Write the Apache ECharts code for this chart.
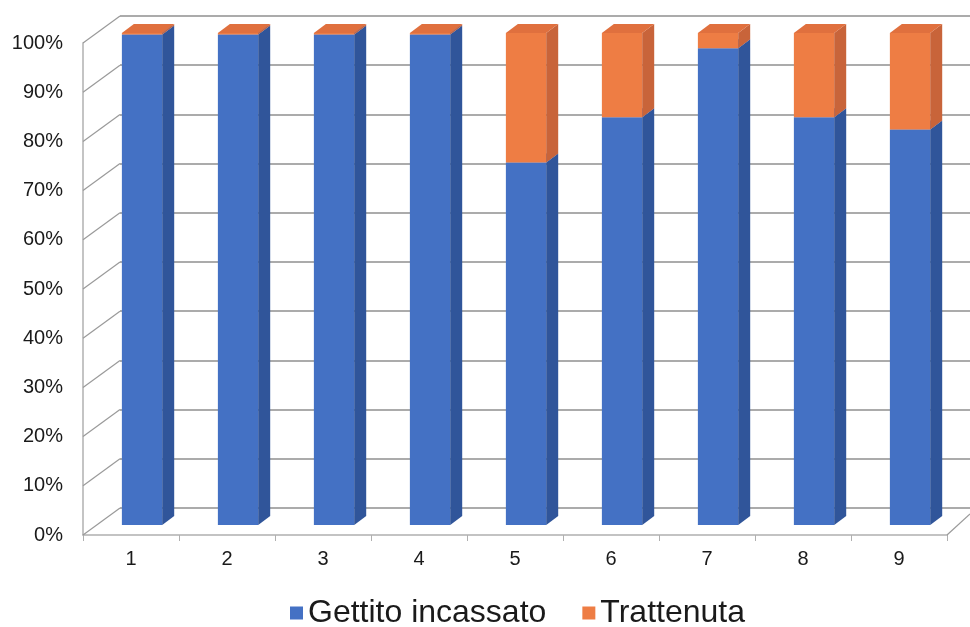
<!DOCTYPE html>
<html><head><meta charset="utf-8">
<script src="https://cdn.jsdelivr.net/npm/echarts@6/dist/echarts.min.js"></script>
<style>html,body{margin:0;padding:0;background:#fff}#c{width:970px;height:627px}</style>
</head><body><div id="c"></div>
<script>
const categories = ['1','2','3','4','5','6','7','8','9'];
const gettito = [99.7, 99.7, 99.7, 99.7, 73.7, 82.9, 96.9, 82.9, 80.4];
const trattenuta = [0.3, 0.3, 0.3, 0.3, 26.3, 17.1, 3.1, 17.1, 19.6];
const yTicks = [0,10,20,30,40,50,60,70,80,90,100];
const seriesNames = ['Gettito incassato', 'Trattenuta'];

const FONT = '"Liberation Sans", Arial, sans-serif';
const palette = {
  'Gettito incassato': {front:'#4471c4', side:'#30559a', top:'#5a84d0'},
  'Trattenuta': {front:'#ee7d44', side:'#c8643a', top:'#e0703e'}
};

const gData = categories.map((c,i)=>[i, 0, gettito[i]]);
const tData = categories.map((c,i)=>[i, gettito[i], gettito[i]+trattenuta[i]]);

function barRender(name){
  const col = palette[name];
  return function(params, api){
    const i = api.value(0), lo = api.value(1), hi = api.value(2);
    const p0 = api.coord([i, lo]);
    const p1 = api.coord([i, hi]);
    const band = api.size([1,0])[0];
    const w = band*0.42;
    const cx = p0[0] + band*0.115;
    const lift = -10;
    const dx = band*0.125, dy = -9;
    const yb = p0[1]+lift, yt = p1[1]+lift;
    const L = cx-w/2, R = cx+w/2;
    return {type:'group', children:[
      {type:'rect', shape:{x:L, y:yt, width:w, height:yb-yt}, style:{fill:col.front}},
      {type:'polygon', shape:{points:[[R,yb],[R+dx,yb+dy],[R+dx,yt+dy],[R,yt]]}, style:{fill:col.side}},
      {type:'polygon', shape:{points:[[L,yt],[L+dx,yt+dy],[R+dx,yt+dy],[R,yt]]}, style:{fill:col.top}}
    ]};
  };
}

function wallRender(params, api){
  const v = api.value(0);
  const p = api.coord([0, v]);
  const band = api.size([1,0])[0];
  const left = p[0]-band/2;
  const children = [{type:'line', shape:{x1:left, y1:p[1], x2:left+37, y2:p[1]-27}, style:{stroke:'#9a9a9a', lineWidth:1.2}}];
  if (v === 0) {
    const pr = api.coord([categories.length-1, 0]);
    const right = pr[0]+band/2;
    children.push({type:'line', shape:{x1:right, y1:pr[1], x2:right+23, y2:pr[1]-21}, style:{stroke:'#9a9a9a', lineWidth:1.2}});
  }
  return {type:'group', children};
}

const chart = echarts.init(document.getElementById('c'), null, {renderer:'canvas'});
chart.setOption({
  animation:false,
  backgroundColor:'#fff',
  grid:[
    {left:83, right:23, top:43, bottom:92},
    {left:120, right:0, top:16, bottom:119}
  ],
  xAxis:[
    {type:'category', data:categories, gridIndex:0,
     axisLine:{lineStyle:{color:'#b0b0b0', width:1.5}},
     axisTick:{show:true, length:6, lineStyle:{color:'#b0b0b0'}},
     axisLabel:{fontSize:20, color:'#1a1a1a', fontFamily:FONT, margin:14}},
    {type:'category', data:categories, gridIndex:1, show:false}
  ],
  yAxis:[
    {type:'value', min:0, max:100, interval:10, gridIndex:0,
     axisLine:{show:true, lineStyle:{color:'#b0b0b0', width:1.5}},
     axisTick:{show:false}, splitLine:{show:false},
     axisLabel:{formatter:'{value}%', fontSize:20, color:'#1a1a1a', fontFamily:FONT, margin:20}},
    {type:'value', min:0, max:100, interval:10, gridIndex:1,
     axisLine:{show:false}, axisTick:{show:false}, axisLabel:{show:false},
     splitLine:{show:true, lineStyle:{color:'#8f8f8f', width:1.5}}}
  ],
  legend:{
    data:seriesNames.map(n=>({name:n, icon:'rect'})),
    left:285, top:592, itemWidth:13, itemHeight:13, itemGap:36,
    textStyle:{fontSize:32, color:'#1a1a1a', fontFamily:FONT}
  },
  series:[
    {type:'custom', name:'wall', xAxisIndex:0, yAxisIndex:0, data:yTicks.map(v=>[v]),
     renderItem:wallRender, silent:true, z:1, encode:{y:0}},
    {type:'custom', name:seriesNames[0], xAxisIndex:0, yAxisIndex:0, data:gData,
     renderItem:barRender(seriesNames[0]), itemStyle:{color:palette[seriesNames[0]].front}, z:3,
     encode:{x:0, y:[1,2]}},
    {type:'custom', name:seriesNames[1], xAxisIndex:0, yAxisIndex:0, data:tData,
     renderItem:barRender(seriesNames[1]), itemStyle:{color:palette[seriesNames[1]].front}, z:3,
     encode:{x:0, y:[1,2]}}
  ]
});
</script></body></html>
